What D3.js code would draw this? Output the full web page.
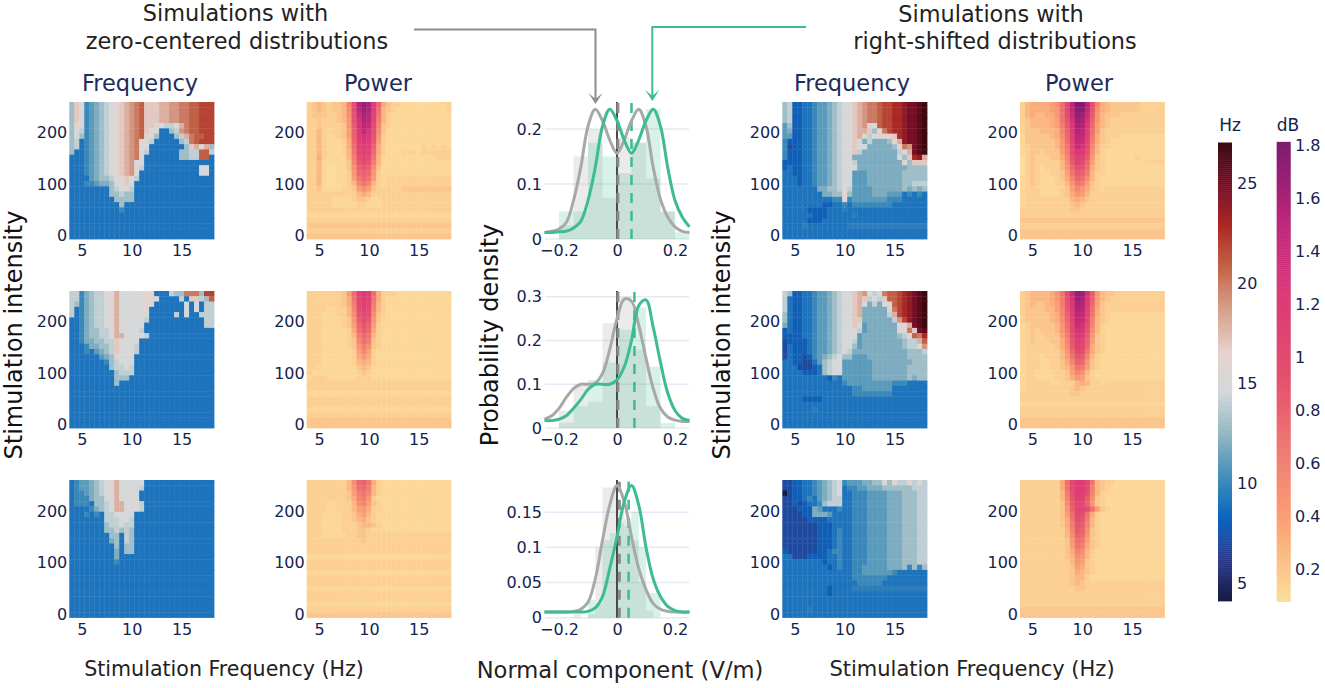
<!DOCTYPE html>
<html><head><meta charset="utf-8">
<script src="https://cdn.jsdelivr.net/npm/d3@7"></script>
<style>html,body{margin:0;padding:0;background:#fff;overflow:hidden}svg{display:block}text{font-family:"DejaVu Sans",sans-serif}</style>
</head><body><svg id="c" width="1325" height="688"></svg>
<script>
// ---- data ----
const stimFrequency = d3.range(4, 18.01, 0.5);      // 29 columns
const stimIntensity = d3.range(250, -1, -10);       // 26 rows, top first
// Hz cells: a..x = 4..27 Hz, A..X = 4.5..27.5 Hz. A short row repeats its last letter.
const freqZero1 = ["jnlghijklmnopqrnnnooppqqrrsss","jnlghijklmnopqrnnnooppqqrrsss","jnlghijklmnopqrnnnooppqqrrsss","jnlghijklmnopqrnnnooppqqrrsss",
"jmlghijklmnopqrnnmlkkloqrrsss","jlkghijklmnopqrnmlffjkpqrrsss","jljghijklmnopqrmljfffjkoqrrss","jkfghijklmnopqllkfffffjkqrsss","jkfghijklmnopqllfffffffjnoloj",
"jffghijklmnopqlkffffffjjkkrrk","fffghijklmnopqlfffffffjjkkrrf","fffghijklmnopllf","fffghijklmnoplkfffffffffffllf","fffghijklmnoplffffffffffffllf",
"ffffhijjklmnlkf","fffgghiijlmnlff","ffffffffjkllkff","ffffffffjjkjjff","fffffffffjjjjff","ffffffffffjffff","ffffffffffgf","f","f","f","f","f"];
const freqZero2 = ["kkgijkklmolllllmmfffkjjqqqjss","kkgijkklmolllllmmlffffkfnnkjrs","kjgijkklmolllllmlfffffflflfkk","kfgijkklmolllllmffffffflflfkk","kfgijkklmollllllfffffkflffkkk",
"ffgijkklmolllllkfffffffffffkk","ffgijkklmolllllffffffffffffkk","ffgijjkkmollllkf","ffgijjkkloollllkf","ffgiijjkknllllf","fffgiijjknlllkf","fffgfhijknlllkf","ffffffhijmlllf","fffffffgjklllf",
"ffffffffjkklkf","fffffffffjkkkf","fffffffffjjjf","fffffffffjf","f","f","f","f","f","f","f","f"];
const freqZero3 = ["fghhijklmolllllf","fghhijklmollllkf","fgghijklmollllf","fgggijjllollllf","fgggfjjkloolllkf","ffffgijkloolllkf","fffgfgfkkllllf","fffffffkkkllkf","fffffffjkklkkf","fffffffjjkjkjf",
"ffffffffjjfkjf","ffffffffijfkjf","fffffffffjfjjf","fffffffffifjjf","fffffffffif","fffffffffgf","f","f","f","f","f","f","f","f","f","f"];
const freqRight1 = ["jkeeffghhijkllnopqqrssttuvvwx","jkeeffghhijkllnopqqrssttuvvwx","jkeeffghhijkllnopqqrssttuvvwx","jkeeffghhijkllnopqqrssttuvvwx",
"hjeeffghhijkllnopllrssttuvvwx","hieeffghhijkllnoonjmqsttuvvwx","hheeffghhijkllnomklmmmntuvvwx","geeeffghhijkllnlikiiijmouvvwx","gdeeffghhijkllnlliiiiijmqpvwx","geeeffghhijkllnkiiiiiiiklovwx",
"geeeffghhijklliiiiiiiiiljntuo","eeeeffghhijkllkiiiiiiiiimjnnn","efeeffghhijkllliiiiiiiiiijjjjj","ffeeffghhijkllhhhiiiiiiijjjjj","fffeffghhijkllhhhiiiiiiijjjjj","fffeffghhijkllhhhiiiiiiijjkkk",
"fffffffiijjklkhhhhiiiiiijijij","ffffffffiijjmjhhhhiiihhhfgfgf","ffffffffffggmghhhhhhhgggfffff","ffffffffeeffgfggggggggf","fffffeeeefffFfffff","ffffffeeefffffFff","fffffeeefff","ffffFffffffffF","f","f"];
const freqRight2 = ["kjeeffghhijkllnoplklqrrstuvwx","kfeeffghhijkllnonklknrrstuvwx","kfeeffghhijkllnolikilmrstuvwx","kfeeffghhijkllnoiiiiilqstuvwx","jfeeffghhijkllnoiiiiikostuvwx","jfeeffghhijkllnniiiiiikpsuvwx",
"ifeeffghhijkllnlhiiiiiilmovwx","efeeffghhijkllmkhiiiiiimlqnvw","eeeeffghhijklllhiiiiiiijkmrqt","deeeefghhijkllkhiiiiiiiijkkor","dfeeefghhijklljhiiiiiiiijkklp","dfeeefghhijklkiiiiiiiiiiijjjk","dfeedeghijkljjhhhiiiiiiiijjjj",
"ffeeddfhjkllhhhhhhiiiiiiiijjj","fffdddefjkllhhhhhhiiiiiiijjjj","ffffeeefjkllhhhhhhiiiiiiijjjj","fffffffffegfhhhhhhiiiiiiijijj","ffffffffffffghhhhhhhhhgggff","ffffffffffffffgghhhhhhf","ffffffffffffffggggggggf","ffffeeeeffffff","f","ffffffFfffffff","f","f","f"];
const freqRight3 = ["ddeeffghijklghhhiijjljmkkmkmk","ddeeffghijklfgghhiiijjjjjjkkk","adeeffghijklffggghhhhiiijjjkk","ddeefgfhijkkffggghhhhiiijjjkk","ddedeffgjkkkffggghhhhiiijjjkk","dddeeeihfffgffggghhhhiiijjjkk",
"ddddeeiiihffffggghhhhiiijjjkk","dddddeeeefffffggghhhhiiijjjkk","dddddddeeeffffggghhhhiiijjjkk","dddddddeeefgffggghhhhiiijjjkk","dddddddeeefgffggghhhhiiijjjkk","dddddddeeefgffggghhhhiiijjjkk","dddddddeeefgffggghhhhiiijjjkk",
"eddddddeefggffggghhhhiiijjjkk","ffdddeeeeffgffggghhhhiiijjjkk","ffffffffeffgffggghhhhiiijjjkk","fffffffffefgffgghhhhhiiijgjgj","ffffffffffffffgghhhhhhgfffffff","ffffffffffffffgggggggf","fffffffffffffffgggggf","fffffffffeffffF","fffffffffef","f","f","fffffFffff","f"];
// dB cells: lower-case letters index dbLevelsLow, A..I = 1.40..1.80 dB.
const dbLevelsLow = [.05,.09,.12,.15,.2,.27,.33,.4,.45,.5,.55,.6,.65,.7,.75,.8,.85,.9,.95,1,1.05,1.1,1.15,1.2,1.25,1.3];
const powerZero1 = ["defedeefksDGExogeddcccccccccd","defedeefjsCFDwnfedccccccccccd","deeeddefjrAECvmfdc","ddedddefirzDCulfdc","ddeddddeiqzCBtkedc","ddfdcddehpyBzsjecc","ddfdccdehpxzyridcc","ddfdcccdgowyxqhdc",
"ddfdcccdgnvxwpgdcccccccdcdcdc","ddfdcccdfmuwvogdcccdddcddddddd","ddgdccccflsutmfcccccccccccddd","ddfcccccekrtrlfc","ddfcbbccejprpjec","ddfcbbccdiopoidc","ddfcbbccdhmomhdcd","ddfcbbccdfkmkfdcd","ddeccccddehjheddddde","ddddddddddfgfd","dddddccccdeedccd","dddddcccccddcccd","d","c","d","e","d","e"];
const powerZero2 = ["dddddddehnvywngdddc","dddddddegmuxvmgdc","dddddddegltwulfdc","ddddccddfksvtkfdc","dddcccddfjrusjedc","dddccccdeiqtriec","dddccccdehorphdc","dddcccccdgnqogdc","dddcccccdflomfdc","dddcccccdeknledc","dddcccccdeiljedc",
"dddccccccdhkhdc","dddccccccdgigdc","dddccccccdfgfdc","ddccccccccefec","dcccccccccdedc","cdddccccccdddc","d","d","c","d","d","c","d","e","e"];
const powerZero3 = ["ddddddddfjopmgdc","ddddddddfinolfdc","ddddddddehlmkfdc","ddddddddegklidc","ddddccdddfjkhedc","ddddccdddfhigddc","dddccccddeghfdc","dddccccddefgedc","dddccccdddeffedc","dddccccdddeedc","dddcccccddeed","ddddddddddded","d","d","c","d","d","c","d","d","c","d","d","c","d","e"];
const powerRight1 = ["dfgggghjnuCIICskgfeeeeeedddd","dfgggghintBHHBrjgfeeeeeed","dfgffggimsAGFAqifeeeddd","deffffghmrzFEzpifedd","deffffghlqyEDyohfedd","deeefffgkpxDCxnhed","ceeeeefgjowCBwmgedddc","ceeeeeefinvBAvlgedc","cdeeeeefimuAzukfddc","cdeedeeehltyxsjfdc",
"bdedddeegkrwvqiedccccccdcc","bdedddddfjqvtohedccccccccdddd","bdedcdddfiosrngedc","bdedccddehmqplfddc","cdedcccdegkonjfdcc","cdedcccddfimlhedcc","cdddccccdehkigedcd","cdddccccdegihfddd","cdddddddddfgfed","cdddddddddefed","ddddddddddeed","d","e","d","e","e"];
const powerRight2 = ["deffffgimtAGFzqifeeddd","deffffgilszFEyphfedd","defeefghlryEDxohed","deeeeffhkqxDCwnged","deeeeefgkpwCBvmgedc","deeeeefgjovBAulfedc","cdeeeeefinuAzskfdc","cdedeeefimtzyrjfdc","cdeddeeehlsyxqiedc","cdedddeegkrwvphedc","cddddddegjqvtogedc",
"cdddddddfiotsmgedc","cdddcdddfhmrqkfdc","cdddccddegkpoiedc","cdddccddefimlhedc","cddccccddehkjfdc","cddccccddegihedc","cdddddccdddfgfddcd","cdddddddddefeddd","ddddddddddeed","d","c","d","d","e","e"];
const powerRight3 = ["ddddddddgnuxxumfeddc","ddddddddgmtxxtlfedc","ddddddddflsxwskfdc","ddddddddfkrwvqjedc","ddddddddejquupiedc","ddddddddeipuutnhedc","ddddddddehntsmgdc","ddddddddegmsrlfdc","ddddddddeglrqkfdc","dddddddddfkqpjedc","dddddddddfjpoiedc","dddddddddeinmhedc","dddddddddehmlgedc",
"dddddddddegkjfdc","dddddddddefjifdc","ddddddddddfihedc","ddddddddddehgedc","ddddddddddegfedc","ddddddddddeffdc","ddddddddddefed","dddddddddddeedd","d","d","d","e","e"];
// colour bars
const hzStops = ["rgb(23,28,66)","rgb(41,58,143)","rgb(11,102,189)","rgb(69,144,185)","rgb(142,181,194)","rgb(210,216,219)","rgb(230,210,204)","rgb(213,157,137)","rgb(196,101,72)","rgb(172,43,36)","rgb(120,14,40)","rgb(60,9,17)"];
const dbStops = ["rgb(252,222,156)","rgb(250,164,118)","rgb(240,116,110)","rgb(227,79,111)","rgb(220,57,119)","rgb(185,37,122)","rgb(124,29,111)"];
const hzRange = [4.18, 27], dbRange = [0.083, 1.81];
const hzTicks = [5,10,15,20,25], dbTicks = [0.2,0.4,0.6,0.8,1,1.2,1.4,1.6,1.8];
// density panels
const freqTicks = [5,10,15], intensityTicks = [0,100,200], normalTicks = [-0.2,0,0.2];
const normalGrid = d3.range(-0.25,0.2501,0.025);
const kdeGrey1 = [.012,.014,.018,.03,.07,.13,.205,.236,.215,.18,.156,.18,.215,.236,.205,.13,.072,.04,.022,.014,.012];
const kdeGreen1 = [.012,.012,.013,.014,.02,.032,.07,.13,.205,.236,.215,.18,.156,.18,.215,.236,.205,.13,.07,.04,.022];
const kdeGrey2 = [.02,.028,.045,.07,.09,.1,.1,.103,.125,.18,.25,.295,.29,.235,.16,.09,.045,.025,.018,.015,.015];
const kdeGreen2 = [.017,.017,.02,.028,.045,.065,.088,.1,.1,.1,.11,.14,.2,.28,.293,.23,.15,.08,.04,.022,.017];
const kdeGrey3 = [.008,.008,.008,.008,.009,.012,.022,.055,.11,.16,.188,.165,.115,.07,.04,.02,.012,.009,.008,.008,.008];
const kdeGreen3 = [.008,.008,.008,.008,.008,.008,.009,.014,.03,.07,.115,.165,.188,.16,.1,.055,.03,.016,.01,.008,.008];
const binEdges1 = d3.range(-0.2,0.2501,0.05), binEdges2 = binEdges1, binEdges3 = d3.range(-0.15,0.1501,0.025);
const histGrey1 = [.025,.15,.2,.075,.185,.175,.11,.05,0];
const histGreen1 = [.05,.05,.175,.15,.12,.175,.236,.05,.012];
const histGrey2 = [.04,.1,.06,.24,.3,.18,.05,0,0];
const histGreen2 = [.012,.05,.11,.15,.225,.275,.14,.012,0];
const histGrey3 = [.005,0,.005,.1,.185,.185,.16,.13,.11,.05,.01,0];
const histGreen3 = [0,.0,.025,.02,.11,.12,.135,.14,.15,.1,.035,.035];
const meanGrey = [0.003,0.003,0.008], meanGreen = [0.05,0.06,0.04];
const densityTicks1 = [0,0.1,0.2], densityTicks2 = [0,0.1,0.2,0.3], densityTicks3 = [0,0.05,0.1,0.15];

// ---- layout ----
const svg = d3.select("#c");
const INK = "#14234f";
const rowsY = [[102,239],[291,428],[480,617.5]];
const colsX = [[69.3,214],[306.7,451],[782.3,927],[1020,1164.5]];
const densityX = [545,689];
const densityZero = [239,428,617.7], densityMax = [0.2491,0.3134,0.1957];

const hzT = d3.range(hzStops.length).map(i=>hzRange[0]+(hzRange[1]-hzRange[0])*i/(hzStops.length-1));
const dbT = d3.range(dbStops.length).map(i=>dbRange[0]+(dbRange[1]-dbRange[0])*i/(dbStops.length-1));
const hzColor = d3.scaleLinear().domain(hzT).range(hzStops).clamp(true);
const dbColor = d3.scaleLinear().domain(dbT).range(dbStops).clamp(true);

function hzValue(c){const k=c.charCodeAt(0);return k>=97?4+(k-97):4.5+(k-65);}
function dbValue(c){const k=c.charCodeAt(0);return k>=97?dbLevelsLow[k-97]:1.4+(k-65)*0.05;}

function heat(rows, col, row, color, decode){
  const [x0,x1]=colsX[col],[y0,y1]=rowsY[row];
  const x=d3.scaleLinear().domain([3.75,18.25]).range([x0,x1]);
  const y=d3.scaleLinear().domain([-5,255]).range([y1,y0]);
  const cells=[];
  rows.forEach((s,r)=>{const t=s.padEnd(29,s[s.length-1]);
    stimFrequency.forEach((f,i)=>cells.push({f,v:stimIntensity[r],z:decode(t[i])}));});
  const g=svg.append("g");
  g.selectAll("rect").data(cells).join("rect")
    .attr("x",d=>x(d.f-0.25)).attr("width",d=>x(d.f+0.25)-x(d.f-0.25)+0.4)
    .attr("y",d=>y(d.v+5)).attr("height",d=>y(d.v-5)-y(d.v+5)+0.4)
    .attr("fill",d=>color(d.z));
  const ay=d3.scaleLinear().domain([0,100]).range([rowAxisZero(row),rowAxisZero(row)-51.5]);
  axis(d3.axisBottom(x).tickValues(freqTicks).tickSize(0).tickPadding(6),0,y1);
  axis(d3.axisLeft(ay).tickValues(intensityTicks).tickSize(0).tickPadding(2),x0,0);
}
function rowAxisZero(row){return rowsY[row][1]-3.6;}
function axis(a,tx,ty){
  const g=svg.append("g").attr("transform",`translate(${tx},${ty})`).call(a);
  g.select(".domain").remove();
  g.selectAll("text").attr("fill",INK).style("font-size","16px").style("font-family",'"DejaVu Sans",sans-serif');
  return g;
}
[[freqZero1,powerZero1,freqRight1,powerRight1],[freqZero2,powerZero2,freqRight2,powerRight2],[freqZero3,powerZero3,freqRight3,powerRight3]].forEach((set,row)=>{
  heat(set[0],0,row,hzColor,hzValue);
  heat(set[1],1,row,dbColor,dbValue);
  heat(set[2],2,row,hzColor,hzValue);
  heat(set[3],3,row,dbColor,dbValue);
});

// density panels
const GREEN="#3dbb92", GREY="#a8a8a8";
[[kdeGrey1,kdeGreen1,histGrey1,histGreen1,binEdges1,densityTicks1],
 [kdeGrey2,kdeGreen2,histGrey2,histGreen2,binEdges2,densityTicks2],
 [kdeGrey3,kdeGreen3,histGrey3,histGreen3,binEdges3,densityTicks3]].forEach((p,row)=>{
  const [kg,kt,hg,ht,edges,ticks]=p;
  const x=d3.scaleLinear().domain([-0.2483,0.2483]).range(densityX);
  const y=d3.scaleLinear().domain([0,densityMax[row]]).range([densityZero[row],rowsY[row][0]]);
  const g=svg.append("g");
  g.selectAll("line.grid").data(ticks).join("line").attr("x1",densityX[0]).attr("x2",densityX[1])
    .attr("y1",d=>y(d)).attr("y2",d=>y(d)).attr("stroke","#e4eaf6").attr("stroke-width",1.5);
  [[hg,"#aaaaaa",0.24],[ht,GREEN,0.2]].forEach(([h,col,op])=>{
    g.append("g").selectAll("rect").data(h).join("rect")
      .attr("x",(d,i)=>x(edges[i])).attr("width",(d,i)=>x(edges[i+1])-x(edges[i]))
      .attr("y",d=>y(d)).attr("height",d=>y(0)-y(d)).attr("fill",col).attr("opacity",op);
  });
  g.append("line").attr("x1",x(0)).attr("x2",x(0)).attr("y1",y.range()[0]).attr("y2",y.range()[1]).attr("stroke","#4a4a4a").attr("stroke-width",2);
  g.append("line").attr("x1",x(meanGrey[row])).attr("x2",x(meanGrey[row])).attr("y1",y.range()[0]).attr("y2",y.range()[1]).attr("stroke","#8a8a8a").attr("stroke-width",3).attr("stroke-dasharray","10,8");
  g.append("line").attr("x1",x(meanGreen[row])).attr("x2",x(meanGreen[row])).attr("y1",y.range()[0]).attr("y2",y.range()[1]).attr("stroke",GREEN).attr("stroke-width",2.5).attr("stroke-dasharray","10,8");
  const line=d3.line().x((d,i)=>x(normalGrid[i])).y(d=>y(d)).curve(d3.curveCatmullRom);
  g.append("path").attr("d",line(kg)).attr("fill","none").attr("stroke",GREY).attr("stroke-width",3);
  g.append("path").attr("d",line(kt)).attr("fill","none").attr("stroke",GREEN).attr("stroke-width",3);
  const fmt=d3.format("~g");
  axis(d3.axisBottom(x).tickValues(normalTicks).tickFormat(fmt).tickSize(0).tickPadding(6),0,densityZero[row]);
  axis(d3.axisLeft(y).tickValues(ticks).tickFormat(fmt).tickSize(0).tickPadding(3),densityX[0],0);
});

// colour bars
function colorbar(x0,w,range,color,ticks,py0,perUnit,title,labelX,titleX){
  const v=d3.scaleLinear().domain([ticks[0],ticks[ticks.length-1]]).range([py0,py0-perUnit*(ticks[ticks.length-1]-ticks[0])]);
  const samples=d3.range(0,1.0001,1/230).map(t=>range[0]+(range[1]-range[0])*t);
  const step=(range[1]-range[0])/230;
  const g=svg.append("g");
  g.selectAll("rect").data(samples).join("rect").attr("x",x0).attr("width",w)
    .attr("y",d=>v(d+step/2)).attr("height",d=>v(d-step/2)-v(d+step/2)+0.5).attr("fill",d=>color(d));
  g.selectAll("text.t").data(ticks).join("text").attr("x",labelX).attr("y",d=>v(d)).attr("dy","0.35em")
    .attr("fill",INK).style("font-size","16px").text(d=>String(d));
  svg.append("text").attr("x",titleX).attr("y",131).attr("text-anchor","middle").attr("fill",INK).style("font-size","17px").text(title);
}
colorbar(1218,14,hzRange,hzColor,hzTicks,583.5,20,"Hz",1237,1230);
colorbar(1276.7,14,dbRange,dbColor,dbTicks,569.5,265,"dB",1295,1288);

// text
const labels=[
 ["Simulations with",235.5,21,22.4,0,"#222"],["zero-centered distributions",237,49,22.4,0,"#222"],
 ["Simulations with",991,22,22.4,0,"#222"],["right-shifted distributions",995,49,22.4,0,"#222"],
 ["Frequency",140,91,22.5,0,"#1b2c5c"],["Power",378,91,22.5,0,"#1b2c5c"],["Frequency",852,91,22.5,0,"#1b2c5c"],["Power",1079,91,22.5,0,"#1b2c5c"],
 ["Stimulation Frequency (Hz)",224,676,20.6,0,"#222"],["Normal component (V/m)",620,678,22.6,0,"#222"],["Stimulation Frequency (Hz)",972,676,21,0,"#222"],
 ["Stimulation intensity",22,335,24,-90,"#111"],["Probability density",498,335,24,-90,"#111"],["Stimulation intensity",730,335,24,-90,"#111"]
];
svg.append("g").selectAll("text").data(labels).join("text")
  .attr("text-anchor","middle").attr("transform",d=>`translate(${d[1]},${d[2]}) rotate(${d[4]})`)
  .style("font-size",d=>d[3]+"px").attr("fill",d=>d[5]).text(d=>d[0]);

// callout arrows
const callouts=[{pts:[[414,29.5],[595.5,29.5],[595.5,102]],col:"#8c8c8c"},{pts:[[806,27],[652.3,27],[652.3,99]],col:GREEN}];
const ln=d3.line();
callouts.forEach(c=>{
  svg.append("path").attr("d",ln(c.pts)).attr("fill","none").attr("stroke",c.col).attr("stroke-width",2);
  const [tx,ty]=c.pts[2];
  svg.append("path").attr("d",ln([[tx-7,ty-9],[tx,ty+2],[tx+7,ty-9],[tx,ty-3]])+"Z").attr("fill",c.col);
});
</script></body></html>
